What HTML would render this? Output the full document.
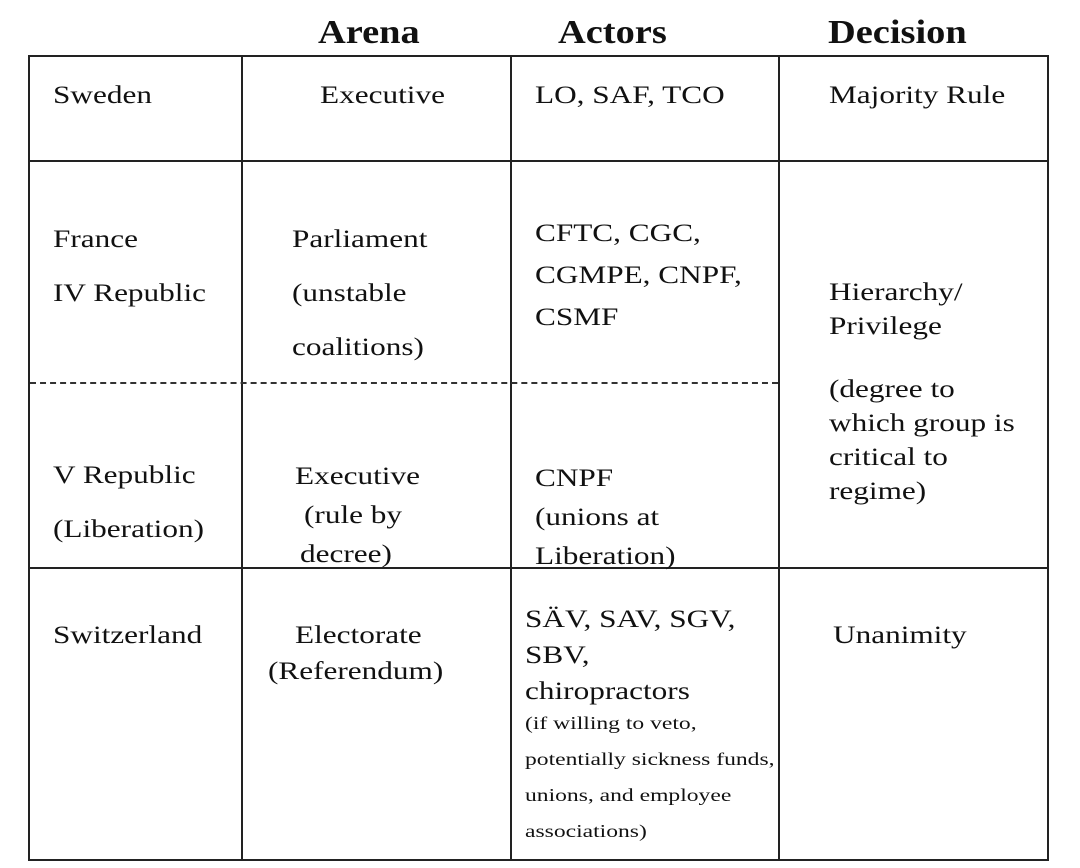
<!DOCTYPE html>
<html><head><style>
body{margin:0;width:1080px;height:868px;background:#fff;position:relative;font-family:"Liberation Serif",serif;color:#111;overflow:hidden}
.t{position:absolute;font-size:25px;line-height:27px;white-space:nowrap;transform:scaleX(1.25);transform-origin:0 0}
.h{position:absolute;font-size:34px;font-weight:bold;top:14px;transform:scaleX(1.13);transform-origin:0 0}
.l{position:absolute;background:#222}
.s{font-size:18px;line-height:36px;transform:scaleX(1.31)}
</style></head><body>
<div class="h" style="left:318px">Arena</div>
<div class="h" style="left:558px">Actors</div>
<div class="h" style="left:828px">Decision</div>
<div class="l" style="left:28px;top:55px;width:1021px;height:2px"></div>
<div class="l" style="left:28px;top:859px;width:1021px;height:2px"></div>
<div class="l" style="left:28px;top:55px;width:2px;height:806px"></div>
<div class="l" style="left:1047px;top:55px;width:2px;height:806px"></div>
<div class="l" style="left:241px;top:55px;width:2px;height:806px"></div>
<div class="l" style="left:510px;top:55px;width:2px;height:806px"></div>
<div class="l" style="left:778px;top:55px;width:2px;height:806px"></div>
<div class="l" style="left:28px;top:160px;width:1021px;height:2px"></div>
<div class="l" style="left:28px;top:567px;width:1021px;height:2px"></div>
<div style="position:absolute;left:30px;top:382px;width:748px;border-top:2px dashed #333"></div>
<div class="t" style="left:53px;top:82px">Sweden</div>
<div class="t" style="left:320px;top:82px">Executive</div>
<div class="t" style="left:535px;top:82px">LO, SAF, TCO</div>
<div class="t" style="left:829px;top:82px">Majority Rule</div>
<div class="t" style="left:53px;top:213px;line-height:54px">France<br>IV Republic</div>
<div class="t" style="left:292px;top:213px;line-height:54px">Parliament<br>(unstable<br>coalitions)</div>
<div class="t" style="left:535px;top:213px;line-height:42px">CFTC, CGC,<br>CGMPE, CNPF,<br>CSMF</div>
<div class="t" style="left:829px;top:276px;line-height:34px">Hierarchy/<br>Privilege</div>
<div class="t" style="left:829px;top:373px;line-height:34px">(degree to<br>which group is<br>critical to<br>regime)</div>
<div class="t" style="left:53px;top:449px;line-height:54px">V Republic<br>(Liberation)</div>
<div class="t" style="left:295px;top:463px">Executive</div>
<div class="t" style="left:304px;top:502px">(rule by</div>
<div class="t" style="left:300px;top:541px">decree)</div>
<div class="t" style="left:535px;top:459px;line-height:39px">CNPF<br>(unions at<br>Liberation)</div>
<div class="t" style="left:53px;top:622px">Switzerland</div>
<div class="t" style="left:295px;top:622px">Electorate</div>
<div class="t" style="left:268px;top:658px">(Referendum)</div>
<div class="t" style="left:525px;top:602px;line-height:36px">SÄV, SAV, SGV,<br>SBV,<br>chiropractors</div>
<div class="t s" style="left:525px;top:705px">(if willing to veto,<br>potentially sickness funds,<br>unions, and employee<br>associations)</div>
<div class="t" style="left:833px;top:622px">Unanimity</div>
</body></html>
